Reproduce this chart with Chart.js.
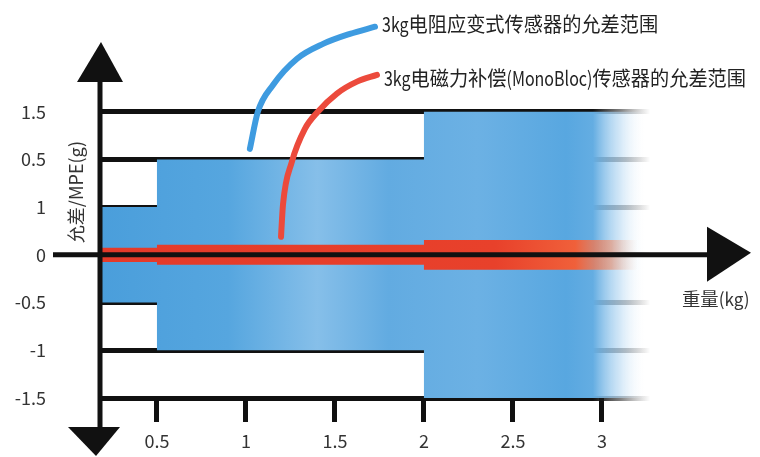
<!DOCTYPE html>
<html>
<head>
<meta charset="utf-8">
<script src="https://cdn.jsdelivr.net/npm/chart.js@4.4.0/dist/chart.umd.min.js"></script>
<style>
html, body { margin: 0; padding: 0; background: #fff; }
#wrap { width: 760px; height: 457px; }
</style>
</head>
<body>
<div id="wrap"><canvas id="c"></canvas></div>
<script>
// x axis: weight (kg)
const weightTicks = [0.5, 1, 1.5, 2, 2.5, 3];
const weightLabels = ['0.5', '1', '1.5', '2', '2.5', '3'];
// y axis rows and the labels printed next to them (as in the original)
const mpeRows = [-3, -2, -1, 0, 1, 2, 3];
const mpeLabels = ['-1.5', '-1', '-0.5', '0', '1', '0.5', '1.5'];

// stepped tolerance bands
const stepX = [0.18, 0.5, 2, 3.27];
const strainGaugeBand = [1, 2, 3, 3];
const monoBlocBand = [0.15, 0.21, 0.31, 0.31];

// pointer curves to the annotation texts
const strainCurveX = [1.022, 1.067, 1.152, 1.287, 1.433, 1.584, 1.725];
const strainCurveY = [2.22, 3.00, 3.56, 4.11, 4.42, 4.63, 4.78];
const monoCurveX = [1.197, 1.208, 1.258, 1.331, 1.404, 1.511, 1.624, 1.736];
const monoCurveY = [0.38, 1.05, 1.95, 2.64, 3.00, 3.38, 3.63, 3.77];

const seriesNames = ['3kg电阻应变式传感器的允差范围', '3kg电磁力补偿(MonoBloc)传感器的允差范围'];
const xTitle = '重量(kg)';
const yTitle = '允差/MPE(g)';

const FONT = "'Noto Sans CJK SC', 'Noto Sans', sans-serif";

const pts = (xs, ys) => xs.map((x, i) => ({ x: x, y: ys[i] }));

function hGrad(chart, stops) {
    const area = chart.chartArea;
    if (!area) return stops[0][1];
    const xs = chart.scales.x;
    const g = chart.ctx.createLinearGradient(area.left, 0, area.right, 0);
    stops.forEach(s => {
        const p = (xs.getPixelForValue(s[0]) - area.left) / (area.right - area.left);
        g.addColorStop(Math.min(1, Math.max(0, p)), s[1]);
    });
    return g;
}

const blueFill = ctx => hGrad(ctx.chart, [
    [0.18, '#4a9edb'], [0.9, '#56a6df'], [1.4, '#86bfe9'], [1.8, '#62abe1'],
    [2.3, '#6cb1e4'], [2.8, '#58a7e0'], [2.95, '#64ade2'], [3.1, 'rgba(180,215,242,0.6)'], [3.25, 'rgba(255,255,255,0)']
]);
const redFill = ctx => hGrad(ctx.chart, [
    [0.18, '#e43a2a'], [2.4, '#e8412b'], [2.85, '#f0603a'], [3.05, 'rgba(246,140,100,0.6)'], [3.2, 'rgba(255,200,170,0)']
]);
const gridFade = ctx => hGrad(ctx.chart, [
    [0.18, '#111'], [2.95, '#111'], [3.1, 'rgba(40,40,40,0.6)'], [3.27, 'rgba(80,80,80,0)']
]);

// draw text with CJK runs and narrower Latin runs (the original uses a condensed face)
function drawMixed(c, text, x, y, cjkScale, latinScale) {
    const runs = text.match(/[\u3000-\u9fff]+|[^\u3000-\u9fff]+/g);
    runs.forEach(r => {
        const sx = /[\u3000-\u9fff]/.test(r) ? cjkScale : latinScale;
        const w = c.measureText(r).width;
        c.save();
        c.translate(x, y);
        c.scale(sx, 1);
        c.fillText(r, 0, 0);
        c.restore();
        x += w * sx;
    });
}

const axisDecor = {
    id: 'axisDecor',
    afterDraw(chart) {
        const c = chart.ctx, a = chart.chartArea;
        const y0 = chart.scales.y.getPixelForValue(0);
        const xl = a.left;
        c.save();
        c.fillStyle = '#111';
        c.strokeStyle = '#111';
        // vertical axis
        c.lineWidth = 5;
        c.beginPath(); c.moveTo(xl, 78); c.lineTo(xl, 432); c.stroke();
        c.beginPath(); c.moveTo(xl + 1, 42); c.lineTo(xl + 23, 82); c.lineTo(xl - 23, 82); c.closePath(); c.fill();
        c.beginPath(); c.moveTo(xl - 32, 427); c.lineTo(xl + 20, 427); c.lineTo(xl - 4, 456); c.closePath(); c.fill();
        // horizontal axis at zero
        c.beginPath(); c.moveTo(53, y0); c.lineTo(712, y0); c.stroke();
        c.beginPath(); c.moveTo(707, y0 - 28); c.lineTo(751, y0 - 2); c.lineTo(707, y0 + 27); c.closePath(); c.fill();
        // axis titles
        c.fillStyle = '#333';
        c.font = '18px ' + FONT;
        c.textAlign = 'left'; c.textBaseline = 'middle';
        drawMixed(c, xTitle, 682, y0 + 44, 1.02, 0.95);
        c.textAlign = 'center';
        c.translate(76, 192);
        c.rotate(-Math.PI / 2);
        c.fillText(yTitle, 0, 0);
        c.restore();
        // annotation texts at the end of the pointer curves
        c.save();
        c.fillStyle = '#222';
        c.font = '20px ' + FONT;
        c.textAlign = 'left'; c.textBaseline = 'middle';
        [0, 1].forEach(i => {
            const meta = chart.getDatasetMeta(i);
            const last = meta.data[meta.data.length - 1];
            drawMixed(c, seriesNames[i], last.x + 7, last.y + (i ? 3 : -2), 0.96, 0.8);
        });
        c.restore();
    }
};

new Chart(document.getElementById('c'), {
    type: 'line',
    data: {
        datasets: [
            { data: pts(strainCurveX, strainCurveY), borderColor: '#3e9be0', borderWidth: 6, pointRadius: 0, cubicInterpolationMode: 'monotone', borderCapStyle: 'round', fill: false },
            { data: pts(monoCurveX, monoCurveY), borderColor: '#ec4a3c', borderWidth: 6, pointRadius: 0, cubicInterpolationMode: 'monotone', borderCapStyle: 'round', fill: false },
            { data: pts(stepX, monoBlocBand), stepped: true, borderWidth: 0, pointRadius: 0, fill: '+1', backgroundColor: redFill },
            { data: pts(stepX, monoBlocBand.map(v => -v)), stepped: true, borderWidth: 0, pointRadius: 0, fill: false },
            { data: pts(stepX, strainGaugeBand), stepped: true, borderWidth: 0, pointRadius: 0, fill: '+1', backgroundColor: blueFill },
            { data: pts(stepX, strainGaugeBand.map(v => -v)), stepped: true, borderWidth: 0, pointRadius: 0, fill: false }
        ]
    },
    options: {
        responsive: true,
        maintainAspectRatio: false,
        animation: false,
        layout: { padding: { left: 0, right: 110, top: 0, bottom: 0 } },
        plugins: { legend: { display: false }, tooltip: { enabled: false } },
        scales: {
            x: {
                type: 'linear',
                min: 0.18,
                max: 3.27,
                afterBuildTicks: s => { s.ticks = weightTicks.map(v => ({ value: v })); },
                afterFit: s => { s.height = 59; },
                border: { display: false },
                grid: { drawOnChartArea: false, drawTicks: true, tickLength: 24, tickWidth: 5, tickColor: '#111' },
                ticks: {
                    padding: 8,
                    color: '#333',
                    font: { family: FONT, size: 18 },
                    callback: v => weightLabels[weightTicks.indexOf(v)]
                }
            },
            y: {
                min: -3,
                max: 5.34,
                z: 1,
                afterBuildTicks: s => { s.ticks = mpeRows.map(v => ({ value: v })); },
                afterFit: s => { s.width = 100; s.paddingTop = 0; s.paddingBottom = 0; },
                border: { display: false },
                grid: { drawTicks: false, lineWidth: 5, color: gridFade },
                ticks: {
                    padding: 54,
                    color: '#333',
                    font: { family: FONT, size: 18 },
                    callback: v => mpeLabels[mpeRows.indexOf(v)]
                }
            }
        }
    },
    plugins: [axisDecor]
});
</script>
</body>
</html>
